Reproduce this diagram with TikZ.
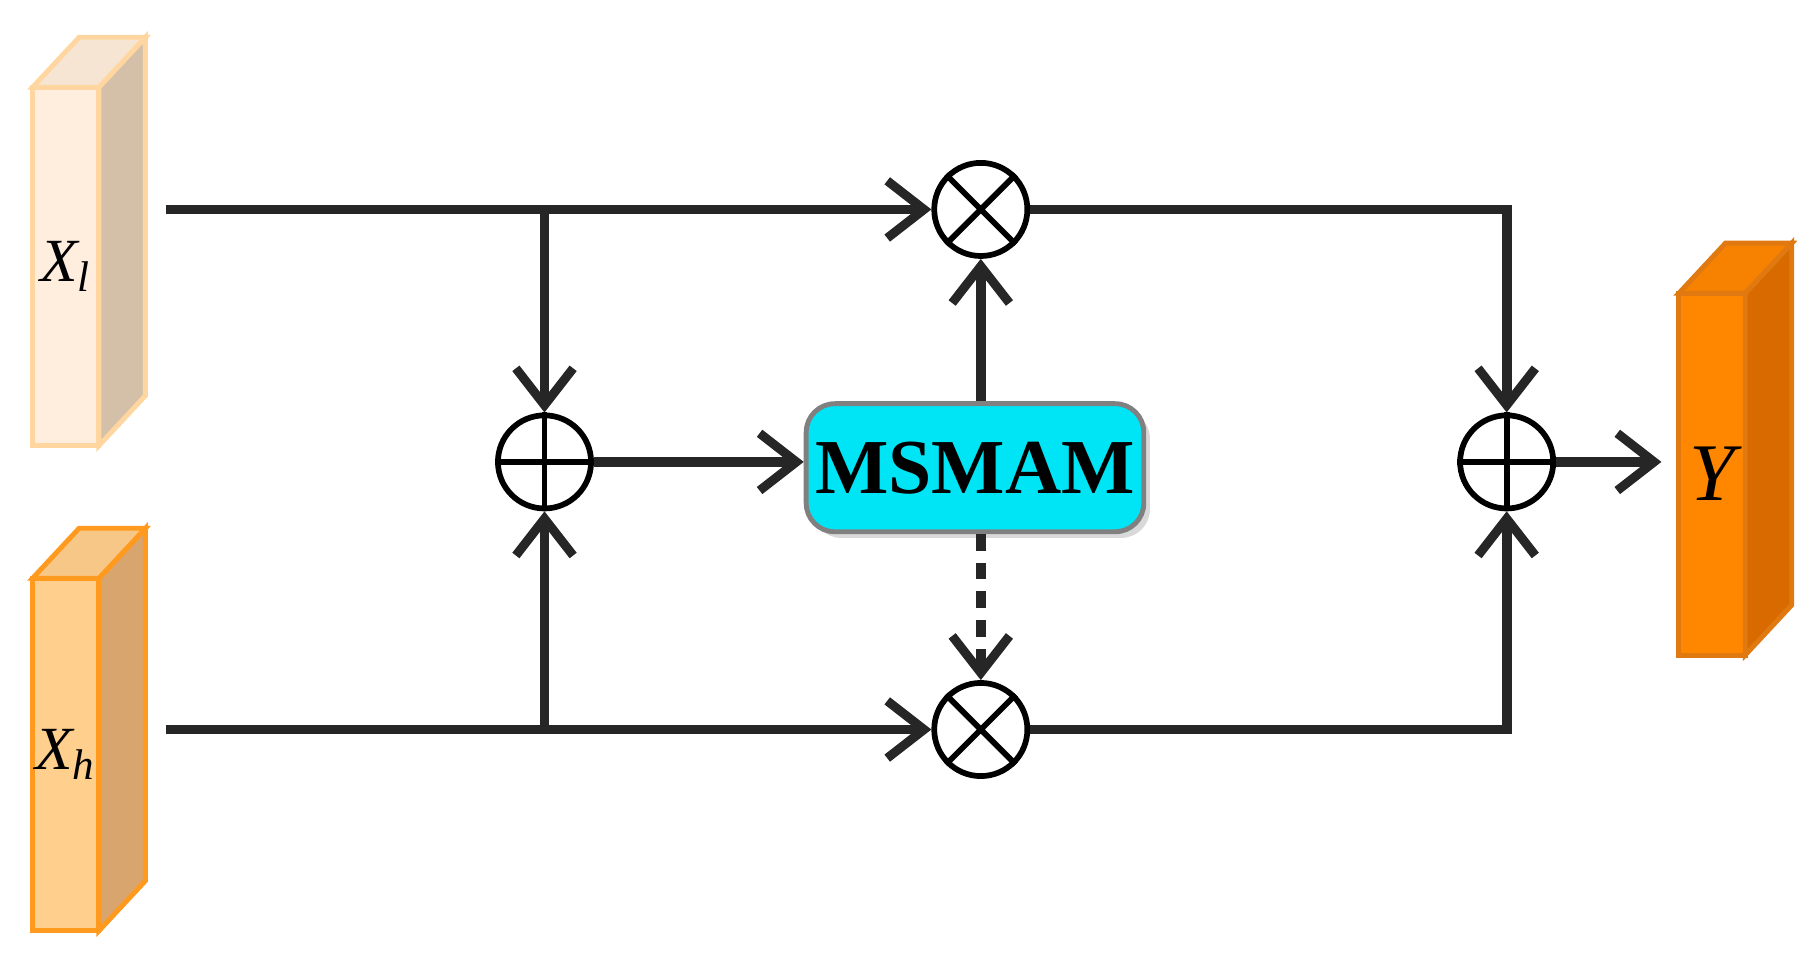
\documentclass[tikz,border=0pt]{standalone}
\usepackage{fontspec}
\setmainfont{Liberation Serif}
\usetikzlibrary{arrows.meta,shadows}
\begin{document}
\begin{tikzpicture}[x=0.01cm,y=-0.01cm,
  conn/.style={line width=2.4pt,color=black!85,-{Straight Barb[length=9pt,width=14pt,line width=2.2pt]}},
  op/.style={circle,draw=black,line width=1.4pt,fill=white,minimum size=0.8cm,inner sep=0pt},
  lbl/.style={font=\fontsize{15}{15}\selectfont\itshape}]
\useasboundingbox (0,0) rectangle (1560,829);
\newcommand{\slab}[8]{%
  \fill[#6,draw=#8,line width=1.2pt] (#1,#2) rectangle (#3,#4);
  \fill[#7,draw=#8,line width=1.2pt] (#3,#2) -- (#3+40,#2-43) -- (#3+40,#4-43) -- (#3,#4) -- cycle;
  \fill[#6!80!#7,draw=#8,line width=1.2pt] (#1,#2) -- (#1+40,#2-43) -- (#3+40,#2-43) -- (#3,#2) -- cycle;
  \node[lbl] at ({(#1+#3)/2},{(#2+#4)/2}) {#5};}
\definecolor{lf}{HTML}{FFEEDD}\definecolor{ls}{HTML}{D4C0A8}\definecolor{lb}{HTML}{FFD6A0}
\definecolor{hf}{HTML}{FFCF8E}\definecolor{hs}{HTML}{D9A56E}\definecolor{hb}{HTML}{FF9A1E}
\definecolor{yf}{HTML}{FF8700}\definecolor{ys}{HTML}{D86A00}\definecolor{yb}{HTML}{E07A10}
\definecolor{msc}{HTML}{00E5F5}
\slab{28}{75}{85}{383}{X\textsubscript{\itshape l}}{lf}{ls}{lb}
\slab{28}{497}{85}{800}{X\textsubscript{\itshape h}}{hf}{hs}{hb}
\slab{1443}{252}{1500}{563}{\fontsize{20}{20}\selectfont Y}{yf}{ys}{yb}
\node[op] (m1) at (843,180) {};
\node[op] (m2) at (843,627) {};
\node[op] (a1) at (468,397) {};
\node[op] (a2) at (1295,397) {};
\coordinate (sl) at (143,180);
\coordinate (sh) at (143,627);
\coordinate (bl) at (468,180);
\coordinate (bh) at (468,627);
\coordinate (yin) at (1428,397);
\foreach \n in {m1,m2}{\draw[line width=1.4pt] (\n.north east)--(\n.south west) (\n.north west)--(\n.south east);}
\foreach \n in {a1,a2}{\draw[line width=1.4pt] (\n.north)--(\n.south) (\n.west)--(\n.east);}
\node[draw=black!50,line width=1.2pt,fill=msc,rounded corners=7pt,inner xsep=2pt,
  minimum width=2.9cm,minimum height=1.1cm,drop shadow={opacity=0.3,shadow xshift=1.5pt,shadow yshift=-1.5pt},
  font=\fontsize{19}{19}\selectfont\bfseries] (ms) at (838,402) {MSMAM};
\draw[conn] (sl) -- (m1);
\draw[conn] (sh) -- (m2);
\draw[conn] (bl) -- (a1);
\draw[conn] (bh) -- (a1);
\draw[conn] (a1) -- (a1 -| ms.west);
\draw[conn] (ms.north -| m1) -- (m1);
\draw[conn,dash pattern=on 4pt off 3pt] (ms.south -| m2) -- (m2);
\draw[conn,line join=miter] (m1) -- (m1 -| a2) -- (a2);
\draw[conn,line join=miter] (m2) -- (m2 -| a2) -- (a2);
\draw[conn] (a2) -- (yin);
\end{tikzpicture}
\end{document}
